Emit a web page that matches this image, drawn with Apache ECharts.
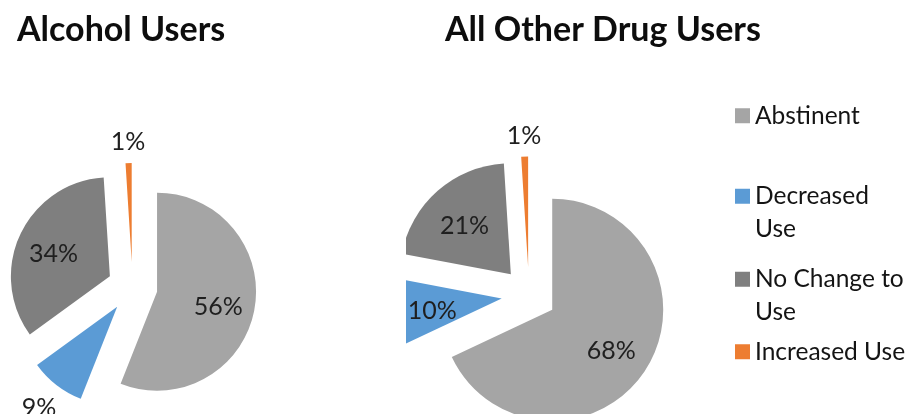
<!DOCTYPE html>
<html><head><meta charset="utf-8">
<script src="https://cdn.jsdelivr.net/npm/echarts@6/dist/echarts.min.js"></script>
<style>
html,body{margin:0;padding:0;background:#fff;width:911px;height:414px;overflow:hidden;position:relative}
#a{position:absolute;left:0;top:0;width:406px;height:414px}
#b{position:absolute;left:406px;top:0;width:505px;height:414px}
</style></head>
<body><div id="a"></div><div id="b"></div>
<script>
// ---- data ----
const categories = ['Abstinent', 'Decreased Use', 'No Change to Use', 'Increased Use'];
const legendLabels = ['Abstinent', 'Decreased\nUse', 'No Change to\nUse', 'Increased Use'];
const alcoholValues = [56, 9, 34, 1];
const otherDrugValues = [68, 10, 21, 1];
const titles = ['Alcohol Users', 'All Other Drug Users'];

// ---- styles ----
const colors = ['#A5A5A5', '#5B9BD5', '#7F7F7F', '#ED7D31'];
const FONT = 'Lato, "Open Sans", sans-serif';
const labelColor = '#1f1f1f';

function pieSeries(name, values, center, radius, offset) {
  const total = values.reduce((a, b) => a + b, 0);
  const mids = [];
  let cum = 0;
  values.forEach(v => { mids.push((cum + v / 2) / total * 2 * Math.PI); cum += v; });
  const isOutside = v => v / total < 0.095;
  const outsideGap = 8;
  return {
    type: 'pie', name: name,
    center: center, radius: radius,
    startAngle: 90, clockwise: true,
    selectedMode: 'multiple', selectedOffset: offset,
    avoidLabelOverlap: false,
    silent: true,
    emphasis: { disabled: true },
    itemStyle: { borderWidth: 0 },
    label: {
      show: true, formatter: '{d}%', position: 'inside',
      fontFamily: FONT, fontSize: 25, color: labelColor
    },
    labelLine: { show: false },
    labelLayout: function (p) {
      const a = mids[p.dataIndex];
      const sx = Math.sin(a), sy = -Math.cos(a);
      if (isOutside(values[p.dataIndex])) {
        const r = p.labelRect;
        const half = Math.abs(sx) * r.width / 2 + Math.abs(sy) * r.height / 2;
        const d = outsideGap + half;
        return { align: 'center', dx: d * sx, dy: d * sy };
      }
      const shift = 0.63 * radius - (0.5 * radius + 3);
      return { dx: shift * sx, dy: shift * sy + 4 };
    },
    data: values.map((v, i) => {
      const out = isOutside(v);
      return {
        name: categories[i], value: v, selected: true,
        itemStyle: { color: colors[i] },
        select: { itemStyle: { color: colors[i], borderWidth: 0 } },
        label: out ? { position: 'outside', distanceToLabelLine: 0, color: labelColor } : { position: 'inside' },
        labelLine: { show: false, length: 0, length2: 0 }
      };
    })
  };
}

const titleStyle = { fontFamily: FONT, fontSize: 34, fontWeight: 'bold', color: '#0d0d0d' };

const chartA = echarts.init(document.getElementById('a'), null, { renderer: 'canvas' });
chartA.setOption({
  animation: false,
  title: { text: titles[0], left: 17, top: 13, padding: 0, textStyle: titleStyle },
  series: [pieSeries(titles[0], alcoholValues, [132.5, 287], 99, 25)]
});

const legendTops = [99.5, 147.5, 230.5, 335.5];
const legends = categories.map((c, i) => {
  const multi = legendLabels[i].indexOf('\n') >= 0;
  return {
    data: [c], orient: 'vertical', left: 329, top: legendTops[i], padding: 0,
    icon: 'rect', itemWidth: 15, itemHeight: 15, itemGap: 0,
    selectedMode: false,
    // a leading empty line keeps the marker level with the first text line
    formatter: () => (multi ? '\n' : '') + legendLabels[i],
    textStyle: {
      fontFamily: FONT, fontSize: 24.5, lineHeight: 32.5, color: '#141414'
    }
  };
});

const chartB = echarts.init(document.getElementById('b'), null, { renderer: 'canvas' });
chartB.setOption({
  animation: false,
  title: { text: titles[1], left: 39, top: 13, padding: 0, textStyle: titleStyle },
  legend: legends,
  series: [pieSeries(titles[1], otherDrugValues, [123, 295], 111, 27.5)]
});
</script>
</body></html>
